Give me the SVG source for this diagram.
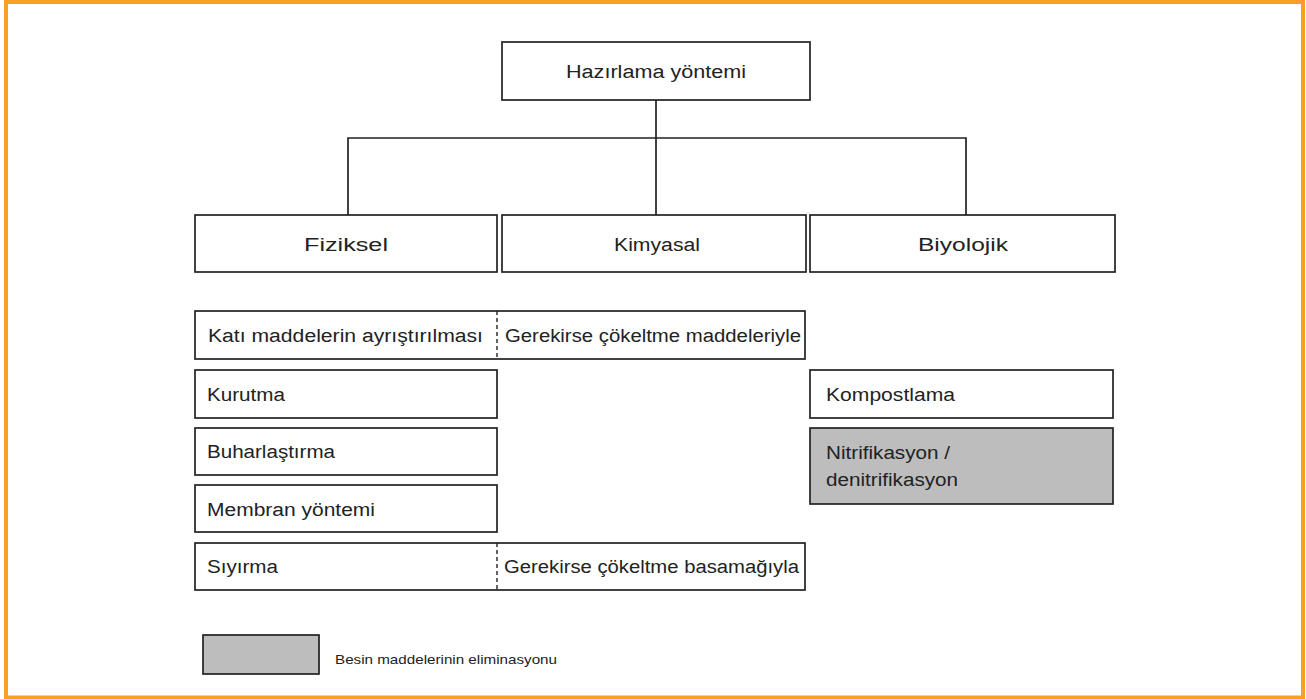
<svg xmlns="http://www.w3.org/2000/svg" width="1306" height="699" viewBox="0 0 1306 699">
<style>
.box{fill:#fff;stroke:#222;stroke-width:1.7}
.gray{fill:#bdbdbd;stroke:#222;stroke-width:1.7}
.t{font-family:"Liberation Sans",Arial,sans-serif;font-size:18px;fill:#222}
.c{text-anchor:middle}
.s{font-family:"Liberation Sans",Arial,sans-serif;font-size:13px;fill:#222}
.ln{stroke:#222;stroke-width:1.7;fill:none}
.dash{stroke:#222;stroke-width:1.4;stroke-dasharray:4 3;fill:none}
</style>
<rect x="0" y="0" width="1306" height="699" fill="#fff"/>
<rect x="6" y="2" width="1297" height="695.5" fill="none" stroke="#f89f24" stroke-width="4"/>
<g id="connectors">
<path class="ln" d="M656 100 V215 M348 215 V138 H966 V215"/>
</g>
<g id="root"><rect class="box" x="502" y="42" width="308" height="58"/><text class="t c" x="656" y="78" textLength="180" lengthAdjust="spacingAndGlyphs">Hazırlama yöntemi</text></g>
<g id="fiziksel"><rect class="box" x="195" y="215" width="302" height="57"/><text class="t c" x="346" y="251" textLength="84" lengthAdjust="spacingAndGlyphs">Fiziksel</text></g>
<g id="kimyasal"><rect class="box" x="502" y="215" width="304" height="57"/><text class="t c" x="657" y="251" textLength="86" lengthAdjust="spacingAndGlyphs">Kimyasal</text></g>
<g id="biyolojik"><rect class="box" x="810" y="215" width="305" height="57"/><text class="t c" x="963" y="251" textLength="90" lengthAdjust="spacingAndGlyphs">Biyolojik</text></g>
<g id="kati"><rect class="box" x="195" y="311" width="610" height="48"/><line class="dash" x1="497" y1="311" x2="497" y2="359"/><text class="t" x="208" y="342" textLength="275" lengthAdjust="spacingAndGlyphs">Katı maddelerin ayrıştırılması</text><text class="t" x="505" y="342" textLength="296" lengthAdjust="spacingAndGlyphs">Gerekirse çökeltme maddeleriyle</text></g>
<g id="kurutma"><rect class="box" x="195" y="370" width="302" height="48"/><text class="t" x="207" y="401" textLength="78" lengthAdjust="spacingAndGlyphs">Kurutma</text></g>
<g id="buhar"><rect class="box" x="195" y="428" width="302" height="47"/><text class="t" x="207" y="458" textLength="128" lengthAdjust="spacingAndGlyphs">Buharlaştırma</text></g>
<g id="membran"><rect class="box" x="195" y="485" width="302" height="47"/><text class="t" x="207" y="516" textLength="168" lengthAdjust="spacingAndGlyphs">Membran yöntemi</text></g>
<g id="siyirma"><rect class="box" x="195" y="543" width="610" height="47"/><line class="dash" x1="497" y1="543" x2="497" y2="590"/><text class="t" x="207" y="573" textLength="71" lengthAdjust="spacingAndGlyphs">Sıyırma</text><text class="t" x="504" y="573" textLength="295" lengthAdjust="spacingAndGlyphs">Gerekirse çökeltme basamağıyla</text></g>
<g id="kompost"><rect class="box" x="810" y="370" width="303" height="48"/><text class="t" x="826" y="401" textLength="129" lengthAdjust="spacingAndGlyphs">Kompostlama</text></g>
<g id="nitri"><rect class="gray" x="810" y="428" width="303" height="76"/><text class="t" x="826" y="459" textLength="124" lengthAdjust="spacingAndGlyphs">Nitrifikasyon /</text><text class="t" x="826" y="486" textLength="132" lengthAdjust="spacingAndGlyphs">denitrifikasyon</text></g>
<g id="legend"><rect class="gray" x="203" y="635" width="116" height="39"/><text class="s" x="335" y="664" textLength="222" lengthAdjust="spacingAndGlyphs">Besin maddelerinin eliminasyonu</text></g>
</svg>
